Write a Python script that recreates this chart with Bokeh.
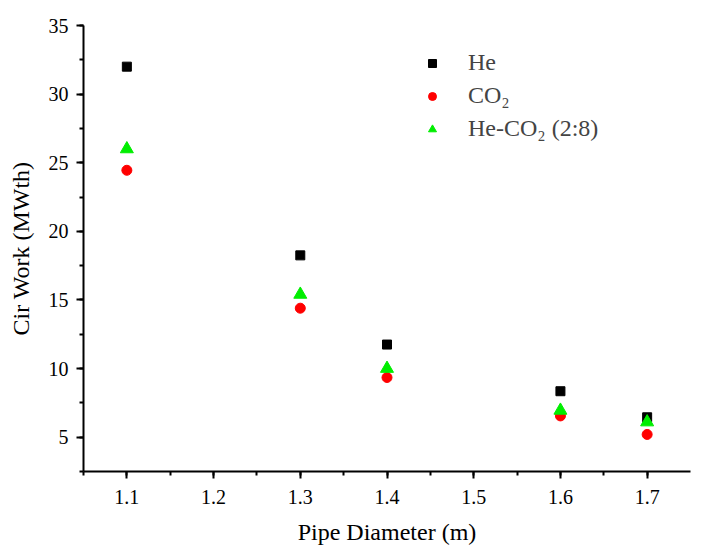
from bokeh.plotting import figure
from bokeh.models import SingleIntervalTicker, Legend, LegendItem, Range1d
from bokeh.embed import file_html
from bokeh.resources import INLINE

diameter = [1.1, 1.3, 1.4, 1.6, 1.7]
he = [32.0, 18.25, 11.75, 8.35, 6.45]
co2 = [24.45, 14.4, 9.35, 6.55, 5.2]
mix = [26.0, 15.4, 10.0, 6.95, 6.1]

FONT = "Liberation Serif"

p = figure(width=708, height=554, output_backend="svg", toolbar_location=None,
           x_range=Range1d(1.05, 1.75), y_range=Range1d(2.5, 35),
           min_border_left=83, min_border_right=18, min_border_top=25, min_border_bottom=83)
p.frame_width = 607
p.frame_height = 446
p.outline_line_color = None
p.xgrid.visible = False
p.ygrid.visible = False
p.background_fill_color = "white"
p.border_fill_color = "white"

r1 = p.scatter(diameter, he, marker="square", size=9, color="black")
r2 = p.scatter(diameter, co2, marker="circle", size=10, color="#ff0000")
r3 = p.scatter(diameter, mix, marker="triangle", size=13, color="#00ee00")

for ax in (p.xaxis[0], p.yaxis[0]):
    ax.axis_line_width = 2
    ax.major_tick_line_width = 2
    ax.minor_tick_line_width = 2
    ax.major_tick_out = 7
    ax.major_tick_in = 0
    ax.minor_tick_out = 4
    ax.minor_tick_in = 0
    ax.major_label_text_font = FONT
    ax.major_label_text_font_size = "20px"
    ax.major_label_text_color = "black"
    ax.axis_label_text_font = FONT
    ax.axis_label_text_font_style = "normal"
    ax.axis_label_text_font_size = "24px"
    ax.axis_label_text_color = "black"

p.xaxis.ticker = SingleIntervalTicker(interval=0.1, num_minor_ticks=2)
p.yaxis.ticker = SingleIntervalTicker(interval=5, num_minor_ticks=2)
p.xaxis.axis_label = "Pipe Diameter (m)"
p.yaxis.axis_label = "Cir Work (MWth)"
p.xaxis.major_label_standoff = 11
p.xaxis.axis_label_standoff = 12
p.yaxis.major_label_standoff = 8
p.yaxis.axis_label_standoff = 12

legend = Legend(items=[LegendItem(label="He", renderers=[r1]),
                       LegendItem(label="CO\u2082", renderers=[r2]),
                       LegendItem(label="He-CO\u2082 (2:8)", renderers=[r3])],
                location=(339, 329))
legend.border_line_color = None
legend.background_fill_alpha = 0
legend.label_text_font = FONT
legend.label_text_font_size = "24px"
legend.label_height = 22
legend.glyph_height = 22
legend.spacing = 6
legend.label_standoff = 26
legend.glyph_width = 20
p.add_layout(legend)

open("out.html", "w").write(file_html(p, INLINE))
